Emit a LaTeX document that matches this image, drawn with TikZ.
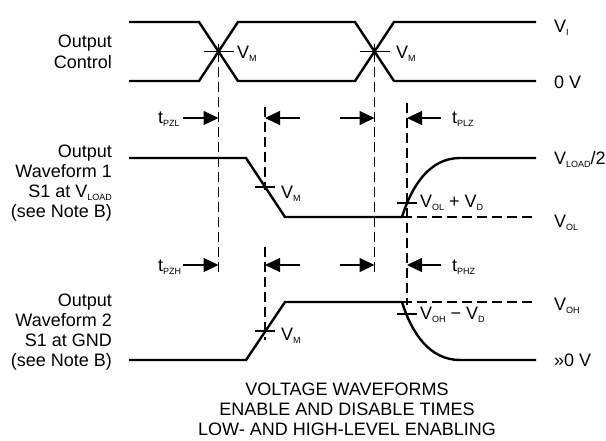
\documentclass[tikz,border=0pt]{standalone}
\usepackage{fontspec}
\setmainfont{Liberation Sans}
\usetikzlibrary{arrows.meta}
\newcommand\sbs[1]{\raisebox{-3.5pt}{\fontsize{9}{9}\selectfont #1}}
\begin{document}
\begin{tikzpicture}[x=1pt,y=-1pt,
  wave/.style={line width=2.4pt, line join=miter},
  guide/.style={line width=1.2pt, dash pattern=on 10pt off 5pt},
  tickmark/.style={line width=1.2pt},
  lbl/.style={inner sep=0pt, anchor=base west, font=\fontsize{18}{20}\selectfont},
  leftlbl/.style={inner sep=0pt, anchor=base east, font=\fontsize{18}{20}\selectfont},
  caption/.style={inner sep=0pt, anchor=base, font=\fontsize{18}{20}\selectfont},
  dimarrow/.style={line width=1.3pt, -{Triangle[length=15pt,width=14pt]}}]
\useasboundingbox (0,0) rectangle (606,440);

% ---------- left labels ----------
\node[leftlbl] (oc1) at (112,47) {Output};
\node[leftlbl] (oc2) at (112,68) {Control};
\node[leftlbl] (w11) at (112,157) {Output};
\node[leftlbl] (w12) at (112,177) {Waveform 1};
\node[leftlbl] (w13) at (112,197) {S1 at V\sbs{LOAD}};
\node[leftlbl] (w14) at (112,217) {(see Note B)};
\node[leftlbl] (w21) at (112,306) {Output};
\node[leftlbl] (w22) at (112,326) {Waveform 2};
\node[leftlbl] (w23) at (112,346) {S1 at GND};
\node[leftlbl] (w24) at (112,366) {(see Note B)};

% ---------- right labels ----------
\node[lbl] (vi) at (554,32) {V\sbs{I}};
\node[lbl] (zv) at (554,88) {0 V};
\node[lbl] (vload) at (554,164) {V\sbs{LOAD}/2};
\node[lbl] (vol) at (554,227) {V\sbs{OL}};
\node[lbl] (voh) at (554,310) {V\sbs{OH}};
\node[lbl] (zv2) at (554,366) {»0 V};

% ---------- output control ----------
\draw[wave] (129,22) -- (199,22) -- (238,81) -- (355,81) -- (394,22) -- (536,22);
\draw[wave] (129,81) -- (199,81) -- (238,22) -- (355,22) -- (394,81) -- (536,81);
\coordinate (x1) at (218.5,51.5);
\coordinate (x2) at (374.5,51.5);
\draw[tickmark] ([xshift=-15pt]x1) -- ([xshift=15pt]x1);
\draw[tickmark] ([yshift=-8pt]x1) -- ([yshift=8pt]x1);
\draw[tickmark] ([xshift=-15pt]x2) -- ([xshift=15pt]x2);
\draw[tickmark] ([yshift=-8pt]x2) -- ([yshift=8pt]x2);
\node[lbl] (vm1) at (237,58) {V\sbs{M}};
\node[lbl] (vm2) at (396,58) {V\sbs{M}};

% ---------- guide lines ----------
\coordinate (g1b) at (218.5,273);
\coordinate (g2a) at (265,107);
\coordinate (g2b) at (265,190);
\coordinate (g3a) at (265,247);
\coordinate (g3b) at (265,340);
\coordinate (g4b) at (374.5,273);
\coordinate (g5a) at (407,103);
\coordinate (g5b) at (407,305);
\draw[guide] (x1) -- (g1b);
\draw[guide] (x2) -- (g4b);
\draw[guide] (g2a) -- (g2b);
\draw[guide] (g3a) -- (g3b);
\draw[guide] (g5a) -- (g5b);

% ---------- waveform 1 ----------
\draw[wave] (129,158) -- (246,158) -- (285,217) -- (402,217)
  .. controls (412,185) and (430,158) .. (460,158) -- (536,158);
\draw[guide] (402,217) -- (536,217);
\draw[tickmark] (255,187) -- (275,187);
\draw[tickmark] (397,203) -- (417,203);
\node[lbl] (vm3) at (281,198) {V\sbs{M}};
\node[lbl] (volvd) at (420,207) {V\sbs{OL} + V\sbs{D}};

% ---------- waveform 2 ----------
\draw[wave] (129,360) -- (246,360) -- (285,302) -- (402,302)
  .. controls (412,334) and (430,360) .. (460,360) -- (536,360);
\draw[guide] (402,302) -- (536,302);
\draw[tickmark] (255,331) -- (275,331);
\draw[tickmark] (397,314) -- (417,314);
\node[lbl] (vm4) at (281,340) {V\sbs{M}};
\node[lbl] (vohvd) at (420,319) {V\sbs{OH} − V\sbs{D}};

% ---------- timing arrows ----------
\node[lbl] (tpzl) at (158,123) {t\sbs{PZL}};
\node[lbl] (tplz) at (452,123) {t\sbs{PLZ}};
\node[lbl] (tpzh) at (158,271) {t\sbs{PZH}};
\node[lbl] (tphz) at (452,271) {t\sbs{PHZ}};
\foreach \yy/\nm in {118/a,265/b}{
  \coordinate (s1\nm) at (183,\yy); \coordinate (e1\nm) at (218.5,\yy);
  \coordinate (s2\nm) at (300,\yy); \coordinate (e2\nm) at (265,\yy);
  \coordinate (s3\nm) at (340,\yy); \coordinate (e3\nm) at (374.5,\yy);
  \coordinate (s4\nm) at (441,\yy); \coordinate (e4\nm) at (407,\yy);
  \draw[dimarrow] (s1\nm) -- (e1\nm);
  \draw[dimarrow] (s2\nm) -- (e2\nm);
  \draw[dimarrow] (s3\nm) -- (e3\nm);
  \draw[dimarrow] (s4\nm) -- (e4\nm);
}

% ---------- caption ----------
\node[caption] (cap1) at (347,395) {VOLTAGE WAVEFORMS};
\node[caption] (cap2) at (347,415) {ENABLE AND DISABLE TIMES};
\node[caption] (cap3) at (347,435) {LOW- AND HIGH-LEVEL ENABLING};
\end{tikzpicture}
\end{document}
